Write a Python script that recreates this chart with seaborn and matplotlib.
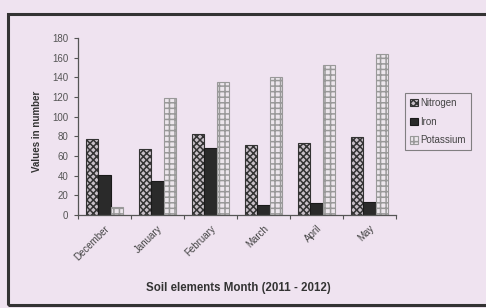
import numpy as np
import pandas as pd
import matplotlib
matplotlib.use("Agg")
import matplotlib.pyplot as plt
from matplotlib.patches import Rectangle
import seaborn as sns

months = ["December", "January", "February", "March", "April", "May"]
elements = ["Nitrogen", "Iron", "Potassium"]
nitrogen = [77, 67, 82, 71, 73, 79]
iron = [41, 35, 68, 10, 12, 13]
potassium = [8, 119, 135, 140, 153, 164]
y_ticks = [0, 20, 40, 60, 80, 100, 120, 140, 160, 180]

df = pd.DataFrame({
    "month": months * 3,
    "element": [e for e in elements for _ in months],
    "value": nitrogen + iron + potassium,
})

sns.set_style("white")
plt.rcParams["font.family"] = ["Liberation Sans", "DejaVu Sans"]
plt.rcParams["hatch.linewidth"] = 1.1

bg = "#efe3f0"
fig = plt.figure(figsize=(4.86, 3.08), dpi=100, facecolor=bg)
ax = fig.add_axes([78 / 486, 1 - 215 / 308, (396 - 78) / 486, (215 - 38) / 308])
ax.set_facecolor(bg)

styles = {
    "Nitrogen": dict(face="#c8c0c8", edge="#333333", hatch="xxxxx"),
    "Iron": dict(face="#2a2a2a", edge="#1a1a1a", hatch=""),
    "Potassium": dict(face="#ece6ec", edge="#999999", hatch="+++"),
}

sns.barplot(data=df, x="month", y="value", hue="element", order=months,
            hue_order=elements, width=0.68, ax=ax, legend=False,
            palette=["#cccccc", "#2a2a2a", "#eeeeee"], saturation=1)

for cont, name in zip(ax.containers, elements):
    st = styles[name]
    for bar in cont:
        bar.set_facecolor(st["face"])
        bar.set_edgecolor(st["edge"])
        bar.set_hatch(st["hatch"])
        bar.set_linewidth(0.8)

ax.set_ylim(0, 180)
ax.set_yticks(y_ticks)
ax.set_xlim(-0.5, len(months) - 0.5)
ax.set_xticks(np.arange(len(months)))
ax.set_xticklabels(months, rotation=45, ha="right", rotation_mode="anchor",
                   fontsize=7, color="#444444")
ax.tick_params(axis="x", length=0, pad=6)
ax.set_xticks(np.arange(len(months) + 1) - 0.5, minor=True)
ax.tick_params(axis="x", which="minor", length=3, color="#555555", width=0.8,
               direction="out", bottom=True)
ax.tick_params(axis="y", length=3, color="#555555", width=0.8, direction="out",
               left=True, labelsize=7, labelcolor="#555555", pad=4)

for side in ["top", "right"]:
    ax.spines[side].set_visible(False)
for side in ["left", "bottom"]:
    ax.spines[side].set_color("#555555")
    ax.spines[side].set_linewidth(0.9)

ax.set_xlabel("")
ax.set_ylabel("")
fig.text(37 / 486, 1 - 131 / 308, "Values in number", rotation=90, ha="center",
         va="center", fontsize=7, fontweight="bold", color="#333333")
fig.text(238 / 486, 1 - 288 / 308, "Soil elements Month (2011 - 2012)",
         ha="center", va="center", fontsize=8.3, fontweight="bold", color="#333333")

handles = []
for name in elements:
    st = styles[name]
    handles.append(Rectangle((0, 0), 1, 1, facecolor=st["face"], edgecolor=st["edge"],
                             hatch=st["hatch"], linewidth=0.8))
leg = fig.legend(handles, elements, loc="upper left",
                 bbox_to_anchor=(405 / 486, 1 - 93 / 308), frameon=True,
                 fancybox=False, fontsize=7, handlelength=0.8, handleheight=0.8,
                 handletextpad=0.3, labelspacing=0.9, borderpad=0.5,
                 borderaxespad=0)
leg.get_frame().set_edgecolor("#666666")
leg.get_frame().set_facecolor(bg)
leg.get_frame().set_linewidth(0.8)
for t in leg.get_texts():
    t.set_color("#444444")

# outer chart frame
fig.patches.append(Rectangle((8 / 486, 1 - 305 / 308), (490 - 8) / 486,
                             (305 - 14) / 308, transform=fig.transFigure,
                             fill=False, edgecolor="#333333", linewidth=2.2))

fig.savefig("out.png", dpi=100, facecolor=bg)
